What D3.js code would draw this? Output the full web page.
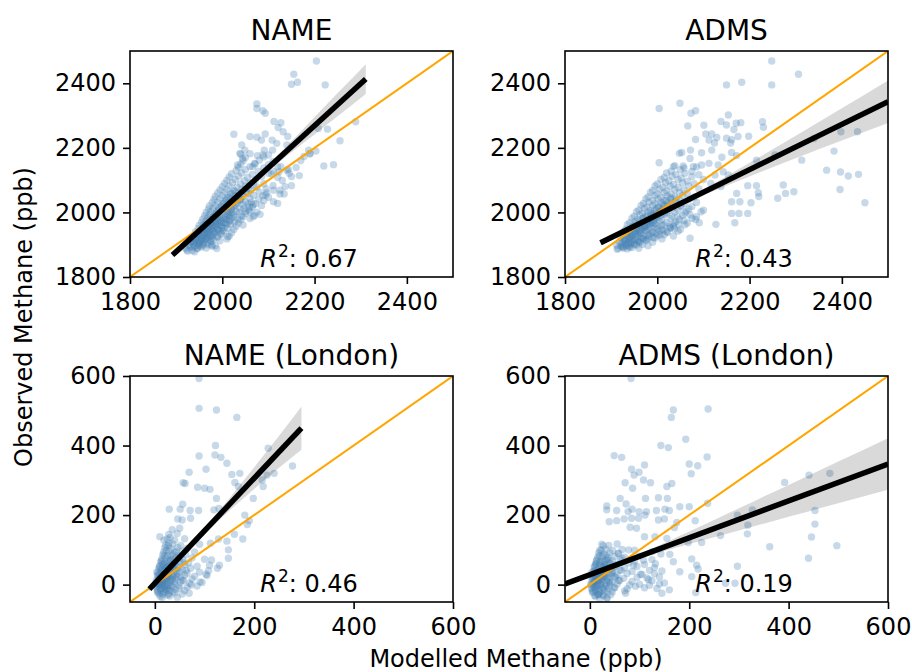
<!DOCTYPE html>
<html>
<head>
<meta charset="utf-8">
<script src="https://cdnjs.cloudflare.com/ajax/libs/d3/7.8.5/d3.min.js"></script>
<style>
  html, body { margin: 0; padding: 0; background: #fff; }
</style>
</head>
<body>
<div id="chart"></div>
<script>
// ------------------------------------------------------------------ data
const panelTitles = ['NAME', 'ADMS', 'NAME (London)', 'ADMS (London)'];
const r2Labels = ['0.67', '0.43', '0.46', '0.19'];
const totalDomain = [1800, 2500];
const totalTicks = [1800, 2000, 2200, 2400];
const londonDomain = [-50, 600];
const londonTicks = [0, 200, 400, 600];

// [modelled, observed] ppb
const nameTotal = [
  [1925,1880],[1935,1882],[1940,1878],[1920,1890],[1930,1892],[1945,1888],[1955,1893],[1965,1890],[1978,1895],[1988,1888],
  [1928,1900],[1938,1902],[1948,1898],[1958,1903],[1970,1900],[1985,1897],[1932,1910],[1942,1912],[1950,1908],[1960,1911],
  [1975,1909],[1995,1912],[1935,1920],[1945,1922],[1955,1918],[1965,1921],[1978,1919],[1990,1923],[2010,1918],[1940,1930],
  [1950,1932],[1958,1928],[1968,1931],[1980,1929],[1998,1933],[2015,1927],[1942,1940],[1952,1942],[1962,1938],[1972,1941],
  [1985,1939],[2000,1943],[2020,1937],[1948,1950],[1958,1952],[1966,1948],[1976,1951],[1990,1949],[2005,1953],[2025,1947],
  [1950,1960],[1960,1962],[1970,1958],[1980,1961],[1995,1959],[2010,1963],[2030,1957],[2045,1961],[1955,1970],[1965,1972],
  [1975,1968],[1985,1971],[2000,1969],[2015,1973],[2035,1967],[1958,1980],[1968,1982],[1978,1978],[1990,1981],[2005,1979],
  [2020,1983],[2040,1977],[2060,1981],[1962,1990],[1972,1992],[1982,1988],[1995,1991],[2010,1989],[2025,1993],[2045,1987],
  [2070,1991],[1965,2000],[1975,2002],[1988,1998],[2000,2001],[2015,1999],[2030,2003],[2050,1997],[2075,2001],[1970,2010],
  [1980,2012],[1992,2008],[2005,2011],[2020,2009],[2038,2013],[2058,2007],[1972,2020],[1985,2022],[1998,2018],[2010,2021],
  [2025,2019],[2045,2023],[2065,2017],[2085,2021],[1978,2030],[1990,2032],[2002,2028],[2015,2031],[2032,2029],[2050,2033],
  [2072,2027],[1982,2040],[1995,2042],[2008,2038],[2022,2041],[2040,2039],[2060,2043],[2090,2037],[1985,2050],[2000,2052],
  [2012,2048],[2028,2051],[2045,2049],[2068,2053],[2100,2047],[1990,2060],[2005,2062],[2018,2058],[2035,2061],[2055,2059],
  [2080,2063],[1995,2070],[2010,2072],[2025,2068],[2042,2071],[2062,2069],[2095,2073],[2000,2080],[2015,2082],[2032,2078],
  [2050,2081],[2075,2079],[2110,2083],[2005,2090],[2022,2092],[2040,2088],[2060,2091],[2090,2089],[2010,2100],[2028,2102],
  [2048,2098],[2072,2101],[2130,2099],[2015,2110],[2035,2112],[2055,2108],[2085,2111],[2120,2109],[2020,2120],[2042,2122],
  [2065,2118],[2100,2121],[2030,2130],[2050,2132],[2078,2128],[2140,2131],[2035,2140],[2060,2142],[2090,2138],[2120,2141],
  [2160,2139],[2040,2150],[2070,2152],[2100,2148],[2045,2160],[2080,2162],[2110,2158],[2170,2161],[2050,2170],[2090,2172],
  [2040,2180],[2060,2182],[2100,2178],[2190,2181],
  [1938,1908],[1945,1918],[1952,1925],[1960,1935],[1966,1942],[1972,1950],[1978,1958],[1985,1965],[1990,1972],[1996,1980],
  [1948,1930],[1956,1940],[1962,1948],[1970,1956],[1976,1964],[1983,1972],[1990,1985],[1940,1896],[1950,1902],[1960,1915],
  [1968,1922],[1975,1930],[1982,1940],[1990,1948],[1998,1958],[2004,1968],[2010,1978],[2015,1988],[2020,1998],
  [2204,2469],[2155,2428],[2150,2397],[2163,2403],[2223,2395],[2075,2336],[2075,2322],[2088,2315],[2093,2307],[2112,2282],
  [2127,2278],[2121,2263],[2132,2250],[2289,2281],[2228,2258],[2208,2260],[2025,2242],[2060,2235],[2075,2233],[2093,2243],
  [2085,2224],[2255,2222],[2108,2224],[2118,2214],[2042,2209],[2049,2193],[2038,2183],[2044,2167],[2203,2190],[2187,2193],
  [2190,2183],[2177,2173],[2220,2144],[2241,2148],[2150,2083],[2134,2057],[2111,2069],[2094,2054],[2082,1994],[2060,2002],
  [2012,1925],[1977,1899],[1946,1889],[2091,2193],[2109,2193],[2076,2176],[2088,2178],[2033,2147],[2066,2142],[2071,2150],
  [2150,2111],[2167,2114],[2145,2121],[2143,2133],[2127,2142],[2123,2126],[2107,2119],[2111,2126],[2136,2080],[2125,2069],
  [2125,2057],[2111,2033],[2120,2028],[2067,1987],[2056,2026],[2038,2038],[2096,2061],[2140,2209],[2142,2235]
];
const nameTotalCore = [
  [1923,1884],[1931,1897],[1937,1893],[1944,1906],[1949,1914],[1953,1909],[1957,1921],[1961,1928],[1964,1917],[1967,1933],
  [1971,1938],[1974,1926],[1977,1946],[1981,1951],[1983,1936],[1986,1958],[1989,1963],[1992,1944],[1994,1969],[1997,1976],
  [1999,1953],[2003,1984],[2006,1991],[2008,1966],[2011,1997],[2014,2004],[2017,1975],[2019,2011],[2023,2018],[2026,1986],
  [2029,2024],[2033,2036],[2036,2001],[2039,2044],[2043,2056],[2047,2012],[2052,2066],[2057,2074],[2063,2031],[2068,2085],
  [1934,1911],[1941,1919],[1947,1937],[1954,1945],[1959,1951],[1963,1962],[1969,1967],[1973,1978],[1979,1985],[1984,1994],
  [1988,2003],[1993,2013],[1999,2021],[2004,2030],[2009,2041],[2016,2047],[2021,2059],[2027,2066],[1952,1896],[1959,1899],
  [1967,1906],[1974,1913],[1981,1916],[1989,1926],[1997,1934],[2004,1942],[2012,1951],[2018,1963],[2026,1970],[2034,1979],
  [2042,1990],[2051,2004],[2059,2017],[2067,2024],[2079,2041],[2088,2052]
];

const admsTotal = [
  [1915,1888],[1925,1892],[1935,1887],[1945,1891],[1960,1889],[1912,1898],[1922,1902],[1932,1897],[1942,1903],[1955,1899],
  [1968,1901],[1980,1897],[1918,1908],[1928,1912],[1938,1907],[1948,1911],[1960,1909],[1975,1913],[1990,1908],[1920,1922],
  [1930,1918],[1940,1921],[1952,1917],[1965,1922],[1980,1919],[1995,1921],[2010,1918],[1925,1928],[1935,1932],[1945,1927],
  [1958,1931],[1970,1929],[1985,1933],[2000,1928],[2015,1931],[2035,1927],[1928,1942],[1940,1938],[1950,1941],[1962,1937],
  [1975,1942],[1990,1939],[2005,1941],[2022,1938],[2045,1942],[1932,1948],[1945,1952],[1955,1947],[1968,1951],[1980,1949],
  [1995,1953],[2010,1948],[2028,1951],[2050,1947],[1935,1962],[1948,1958],[1960,1961],[1972,1957],[1985,1962],[2000,1959],
  [2015,1961],[2035,1958],[2060,1962],[1940,1968],[1952,1972],[1965,1967],[1978,1971],[1990,1969],[2005,1973],[2020,1968],
  [2040,1971],[2065,1967],[1945,1982],[1958,1978],[1970,1981],[1982,1977],[1995,1982],[2010,1979],[2028,1981],[2048,1978],
  [2075,1982],[1950,1988],[1962,1992],[1975,1987],[1988,1991],[2000,1989],[2015,1993],[2032,1988],[2055,1991],[2085,1987],
  [1955,2002],[1968,1998],[1980,2001],[1992,1997],[2005,2002],[2020,1999],[2038,2001],[2060,1998],[2095,2002],[1960,2008],
  [1972,2012],[1985,2007],[1998,2011],[2010,2009],[2025,2013],[2045,2008],[2068,2011],[2100,2007],[1965,2022],[1978,2018],
  [1990,2021],[2002,2017],[2015,2022],[2032,2019],[2050,2021],[2075,2018],[1970,2028],[1982,2032],[1995,2027],[2008,2031],
  [2022,2029],[2040,2033],[2060,2028],[2085,2031],[1975,2042],[1990,2038],[2002,2041],[2015,2037],[2030,2042],[2048,2039],
  [2070,2041],[1980,2048],[1995,2052],[2008,2047],[2022,2051],[2038,2049],[2055,2053],[2080,2048],[1985,2062],[2000,2058],
  [2015,2061],[2030,2057],[2048,2062],[2065,2059],[1990,2068],[2005,2072],[2020,2067],[2038,2071],[2058,2069],[2090,2073],
  [1995,2082],[2012,2078],[2028,2081],[2045,2077],[2068,2082],[2000,2088],[2018,2092],[2035,2087],[2055,2091],[2080,2089],
  [2008,2102],[2025,2098],[2045,2101],[2065,2097],[2100,2102],[2015,2108],[2032,2112],[2052,2107],[2075,2111],[2020,2122],
  [2040,2118],[2060,2121],[2090,2117],[2030,2128],[2050,2132],[2075,2127],[2035,2142],[2058,2138],[2085,2141],
  [1925,1895],[1935,1905],[1945,1915],[1955,1925],[1965,1935],[1975,1945],[1985,1955],[1995,1965],[1940,1892],[1950,1900],
  [1960,1910],[1970,1920],[1980,1930],[1990,1940],[2000,1950],[2010,1960],[1930,1915],[1942,1925],[1952,1935],[1962,1945],
  [1972,1955],[1982,1965],[1992,1975],
  [2248,2469],[2306,2428],[2150,2395],[2183,2403],[2248,2395],[2004,2322],[2049,2338],[2073,2307],[2083,2315],[2154,2302],
  [2138,2282],[2150,2271],[2171,2276],[2181,2278],[2166,2257],[2175,2235],[2228,2281],[2230,2264],[2066,2268],[2105,2243],
  [2118,2243],[2083,2226],[2112,2224],[2150,2230],[2161,2225],[2159,2215],[2129,2232],[2124,2215],[2161,2186],[2172,2176],
  [2048,2183],[2053,2186],[2072,2193],[2096,2185],[2118,2193],[2004,2154],[2038,2145],[2056,2144],[2071,2167],[2078,2142],
  [2096,2147],[2112,2152],[2140,2171],[2132,2147],[2143,2126],[2215,2162],[2255,2178],[2313,2162],[2340,2229],[2398,2250],
  [2434,2250],[2383,2190],[2367,2131],[2397,2125],[2414,2113],[2436,2118],[2396,2071],[2273,2085],[2450,2030],[2278,2059],
  [2296,2064],[2261,2044],[2219,2061],[2220,2049],[2203,2030],[2179,2033],[2172,2059],[2161,2033],[2196,2083],[2215,2083],
  [2177,1997],[2196,1997],[2161,1997],[2168,1968],[2127,1963],[2071,1920],[2116,2090],[2138,2080],[2154,2116],[2125,2116],
  [2198,2236],[2101,2270]
];
const admsTotalCore = [
  [1913,1886],[1921,1894],[1927,1889],[1933,1899],[1939,1896],[1944,1906],[1951,1903],[1957,1914],[1963,1907],[1969,1919],
  [1976,1915],[1983,1926],[1991,1922],[1998,1935],[2006,1931],[2013,1944],[2021,1940],[2029,1953],[2037,1949],[2046,1962],
  [1924,1906],[1931,1913],[1938,1919],[1946,1928],[1953,1934],[1959,1941],[1966,1948],[1973,1955],[1979,1962],[1986,1969],
  [1993,1976],[2001,1983],[2008,1991],[2016,1998],[2024,2006],[2033,2014],[1936,1926],[1943,1934],[1949,1946],[1956,1952],
  [1964,1959],[1971,1966],[1977,1974],[1984,1981],[1992,1989],[1999,1996],[2007,2004],[2014,2013],[2023,2021],[2031,2032],
  [2041,2041],[1947,1957],[1955,1964],[1962,1973],[1969,1982],[1977,1990],[1986,1998],[1994,2006],[2003,2016],[2012,2025],
  [2019,2036],[2028,2046],[2052,2018],[2063,2004],[2071,1993],[2083,1978],[2091,1968],[2058,1975],[2044,1986],[2036,1966],
  [2027,1958]
];

const nameLondon = [
  [15,-37],[30,-33],[45,-36],[8,-27],[18,-23],[28,-26],[40,-24],[55,-27],[5,-14],[12,-17],[20,-13],[30,-16],[42,-14],[60,-17],
  [3,-6],[10,-3],[18,-7],[26,-4],[35,-6],[48,-3],[65,-7],[85,-4],[2,6],[8,3],[15,7],[22,4],[30,6],[40,3],[52,7],[70,4],[95,6],
  [4,14],[10,17],[17,13],[24,16],[32,14],[42,17],[55,13],[75,16],[5,26],[12,23],[18,27],[26,24],[35,26],[45,23],[60,27],[80,24],
  [105,26],[6,34],[13,37],[20,33],[28,36],[38,34],[50,37],[65,33],[90,36],[8,46],[15,43],[22,47],[30,44],[40,46],[55,43],[72,47],
  [10,54],[17,57],[25,53],[34,56],[45,54],[60,57],[85,53],[110,56],[12,66],[20,63],[28,67],[38,64],[50,66],[68,63],[14,74],
  [22,77],[32,73],[42,76],[56,74],[75,77],[100,73],[16,86],[25,83],[36,87],[48,84],[62,86],[18,94],[28,97],[40,93],[55,96],
  [80,94],[20,106],[32,103],[46,107],[65,104],[22,114],[36,117],[52,113],[90,116],[25,131],[40,128],[60,132],[28,144],[45,147],
  [35,158],[50,162],[10,138],[18,128],[28,120],
  [8,0],[12,10],[15,20],[18,30],[20,-5],[25,10],[28,40],[30,20],[14,-10],[22,50],[10,30],[35,15],[5,-20],[26,60],[32,45],
  [16,5],[20,40],[24,-15],[12,45],[38,25],
  [89,593],[89,507],[124,502],[165,481],[228,392],[122,400],[89,370],[121,373],[133,366],[145,349],[69,323],[103,332],[155,317],
  [171,320],[240,320],[226,315],[277,341],[57,293],[61,291],[86,280],[161,294],[168,282],[216,301],[218,282],[198,248],[29,217],
  [51,217],[71,213],[190,184],[186,173],[181,200],[160,145],[177,131],[145,125],[128,131],[112,119],[46,189],[55,186],[100,277],
  [111,274],[88,213],[72,191],[119,215],[129,219],[124,248],[56,231],[148,100],[148,76],[130,56],[114,71],[126,47],[103,30],
  [108,40],[91,8],[73,-1],[69,-25]
];
const nameLondonCore = [
  [6,-22],[11,-12],[14,-2],[9,8],[19,12],[13,21],[23,19],[17,28],[27,31],[21,39],[31,42],[24,51],[34,57],[29,68],[37,72],
  [33,83],[41,62],[47,49],[44,30],[52,22],[39,9],[33,-3],[27,-11],[21,-19],[16,-28],[7,17],[4,36],[9,52],[13,68],[19,83],
  [23,99],[27,112],[31,136],[43,96],[49,78],[57,64],[63,41],[58,12],[49,-10],[36,-20],[26,-30],[11,-34],[3,-1],[7,27],
  [12,2],[25,-1],[28,25],[36,50],[42,40],[15,60]
];

const admsLondon = [
  [20,-41],[35,-38],[10,-31],[18,-28],[28,-32],[42,-29],[5,-21],[12,-18],[20,-22],[30,-19],[45,-21],[70,-18],[3,-11],[10,-8],
  [18,-12],[26,-9],[36,-11],[50,-8],[75,-12],[110,-9],[135,-11],[2,1],[8,-2],[15,2],[22,-1],[30,1],[40,-2],[55,2],[80,-1],
  [100,1],[120,-2],[140,2],[4,11],[10,8],[17,12],[25,9],[34,11],[45,8],[60,12],[85,9],[125,11],[5,19],[12,22],[20,18],[28,21],
  [38,19],[50,22],[68,18],[95,21],[115,19],[140,22],[6,31],[14,28],[22,32],[30,29],[40,31],[55,28],[75,32],[105,29],[130,31],
  [8,39],[15,42],[24,38],[33,41],[45,39],[60,42],[85,38],[120,41],[145,39],[10,51],[18,48],[27,52],[36,49],[50,51],[70,48],
  [95,52],[130,49],[12,59],[20,62],[30,58],[40,61],[55,59],[78,62],[110,58],[14,71],[22,68],[33,72],[45,69],[62,71],[90,68],
  [125,72],[16,79],[25,82],[36,78],[50,81],[70,79],[100,82],[18,91],[28,88],[40,92],[58,89],[20,99],[32,102],[46,98],[65,101],
  [90,99],[24,116],[38,113],[55,117],
  [8,5],[12,15],[15,25],[18,35],[22,0],[25,15],[28,45],[30,25],[14,-5],[20,55],[10,40],[35,20],[6,-15],[26,65],[32,50],
  [16,10],[24,30],[40,5],[12,60],[45,35],
  [83,593],[168,502],[164,481],[238,505],[143,400],[158,394],[193,418],[49,371],[64,366],[200,347],[217,342],[204,319],[236,367],
  [110,344],[84,332],[99,323],[89,315],[108,301],[122,293],[71,293],[165,291],[155,282],[86,277],[61,248],[392,294],[441,315],
  [483,320],[453,213],[453,174],[446,137],[362,109],[497,112],[440,76],[297,53],[112,248],[138,250],[156,248],[34,226],[34,215],
  [54,213],[73,232],[77,210],[85,217],[99,210],[114,210],[134,213],[151,217],[160,213],[181,224],[200,224],[237,234],[39,181],
  [54,184],[69,189],[84,191],[98,191],[111,200],[138,186],[150,189],[175,179],[212,184],[81,165],[94,162],[110,138],[131,138],
  [155,133],[170,164],[198,121],[225,121],[263,141],[297,200],[318,171],[317,146],[327,215],[292,4],[273,4],[205,74],[215,56],
  [218,45],[181,37],[168,66],[161,87],[205,23],[213,-23],[17,-30],[34,-39]
];
const admsLondonCore = [
  [6,-22],[11,-12],[14,-2],[9,8],[19,12],[13,21],[23,19],[17,28],[27,31],[21,39],[31,42],[24,51],[34,57],[29,68],[37,72],
  [33,83],[41,62],[47,49],[44,30],[52,22],[39,9],[33,-3],[27,-11],[21,-19],[16,-28],[7,17],[4,36],[9,52],[13,68],[19,83],
  [23,99],[27,112],[63,41],[58,12],[49,-10],[36,-20],[26,-30],[11,-34],[3,-1],[7,27],[65,75],[88,56],[102,30],[118,15],
  [92,-5],[72,-25],[57,90],[78,100],[108,70],[132,60],[143,88],[125,95],[150,5],[160,-15],[145,-25]
];

// regression lines: [x start, y start, x end, y end]
const fitLines = [
  [1892, 1868, 2311, 2413],
  [1877, 1906, 2500, 2343],
  [-11, -13, 295, 450],
  [-50, 2, 600, 347]
];
// confidence band: x positions and half width (ppb)
const bandX = [
  [1892, 1950, 2000, 2050, 2100, 2150, 2200, 2250, 2311],
  [1877, 1950, 2000, 2100, 2200, 2300, 2400, 2500],
  [-11, 20, 50, 100, 150, 200, 250, 295],
  [-50, 0, 50, 100, 200, 300, 400, 500, 600]
];
const bandHalf = [
  [6, 4, 3, 5, 10, 17, 27, 36, 46],
  [7, 5, 4, 9, 21, 35, 50, 66],
  [6, 4, 4, 9, 18, 31, 46, 62],
  [8, 6, 5, 7, 18, 32, 46, 60, 74]
];

// ------------------------------------------------------------------ chart
function renderChart() {

  var attrs = {
    svgWidth: 912,
    svgHeight: 672,
    panelWidth: 323,
    panelHeight: 226,
    panelLefts: [130, 565],
    panelTops: [51, 376],
    pointRadius: 3.7,
    pointColor: 'steelblue',
    pointOpacity: 0.3,
    identityColor: '#ffa500',
    fitColor: '#000000',
    bandOpacity: 0.15,
    defaultFont: 'DejaVu Sans',
    tickFontSize: 24,
    titleFontSize: 28,
    labelFontSize: 24,
    container: '#chart'
  };

  var pointSets = [
    nameTotal.concat(nameTotalCore),
    admsTotal.concat(admsTotalCore),
    nameLondon.concat(nameLondonCore),
    admsLondon.concat(admsLondonCore)
  ];

  var panels = pointSets.map(function (points, i) {
    var london = i > 1;
    return {
      id: i,
      title: panelTitles[i],
      r2: r2Labels[i],
      points: points,
      domain: london ? londonDomain : totalDomain,
      ticks: london ? londonTicks : totalTicks,
      fit: fitLines[i],
      band: bandX[i].map(function (x, j) { return { x: x, h: bandHalf[i][j] }; })
    };
  });

  d3.selection.prototype.patternify = function (params) {
    var container = this;
    var selector = params.selector;
    var data = params.data || [selector];
    var selection = container.selectAll('.' + selector).data(data);
    selection.exit().remove();
    selection = selection.enter().append(params.tag).merge(selection);
    selection.attr('class', selector);
    return selection;
  };

  var svg = d3.select(attrs.container).patternify({ tag: 'svg', selector: 'svg-chart-container' })
    .attr('width', attrs.svgWidth)
    .attr('height', attrs.svgHeight)
    .attr('font-family', attrs.defaultFont)
    .style('display', 'block');

  var defs = svg.patternify({ tag: 'defs', selector: 'defs' });
  defs.patternify({ tag: 'clipPath', selector: 'panel-clip', data: panels })
    .attr('id', d => 'clip' + d.id)
    .patternify({ tag: 'rect', selector: 'clip-rect', data: d => [d] })
    .attr('width', attrs.panelWidth)
    .attr('height', attrs.panelHeight);

  var panel = svg.patternify({ tag: 'g', selector: 'panel', data: panels })
    .attr('transform', d => 'translate(' + attrs.panelLefts[d.id % 2] + ',' + attrs.panelTops[Math.floor(d.id / 2)] + ')');

  panel.each(function (d) {
    var g = d3.select(this);
    var x = d3.scaleLinear().domain(d.domain).range([0, attrs.panelWidth]);
    var y = d3.scaleLinear().domain(d.domain).range([attrs.panelHeight, 0]);
    var fitY = function (v) {
      var f = d.fit;
      return f[1] + (v - f[0]) * (f[3] - f[1]) / (f[2] - f[0]);
    };

    var plot = g.patternify({ tag: 'g', selector: 'plot-area' })
      .attr('clip-path', 'url(#clip' + d.id + ')');

    plot.patternify({ tag: 'circle', selector: 'dot', data: d.points })
      .attr('cx', p => x(p[0]))
      .attr('cy', p => y(p[1]))
      .attr('r', attrs.pointRadius)
      .attr('fill', attrs.pointColor)
      .attr('fill-opacity', attrs.pointOpacity);

    plot.patternify({ tag: 'line', selector: 'identity' })
      .attr('x1', x(d.domain[0])).attr('y1', y(d.domain[0]))
      .attr('x2', x(d.domain[1])).attr('y2', y(d.domain[1]))
      .attr('stroke', attrs.identityColor)
      .attr('stroke-width', 2);

    var area = d3.area()
      .x(b => x(b.x))
      .y0(b => y(fitY(b.x) - b.h))
      .y1(b => y(fitY(b.x) + b.h))
      .curve(d3.curveMonotoneX);

    plot.patternify({ tag: 'path', selector: 'band' })
      .attr('d', area(d.band))
      .attr('fill', attrs.fitColor)
      .attr('fill-opacity', attrs.bandOpacity);

    plot.patternify({ tag: 'line', selector: 'fit' })
      .attr('x1', x(d.fit[0])).attr('y1', y(d.fit[1]))
      .attr('x2', x(d.fit[2])).attr('y2', y(d.fit[3]))
      .attr('stroke', attrs.fitColor)
      .attr('stroke-width', 5.5);

    // axes
    var xAxis = g.patternify({ tag: 'g', selector: 'x-axis' })
      .attr('transform', 'translate(0,' + attrs.panelHeight + ')')
      .call(d3.axisBottom(x).tickValues(d.ticks).tickSize(7).tickPadding(9).tickFormat(d3.format('d')));
    var yAxis = g.patternify({ tag: 'g', selector: 'y-axis' })
      .call(d3.axisLeft(y).tickValues(d.ticks).tickSize(7).tickPadding(7).tickFormat(d3.format('d')));

    [xAxis, yAxis].forEach(function (ax) {
      ax.select('.domain').remove();
      ax.selectAll('line').attr('stroke', '#000').attr('stroke-width', 1.6);
      ax.selectAll('text')
        .attr('fill', '#000')
        .attr('font-family', attrs.defaultFont)
        .attr('font-size', attrs.tickFontSize);
    });

    g.patternify({ tag: 'rect', selector: 'frame' })
      .attr('width', attrs.panelWidth)
      .attr('height', attrs.panelHeight)
      .attr('fill', 'none')
      .attr('stroke', '#000')
      .attr('stroke-width', 1.6);

    g.patternify({ tag: 'text', selector: 'panel-title' })
      .attr('x', attrs.panelWidth / 2)
      .attr('y', -11.5)
      .attr('text-anchor', 'middle')
      .attr('font-size', attrs.titleFontSize)
      .text(d.title);

    var r2 = g.patternify({ tag: 'text', selector: 'r2' })
      .attr('x', attrs.panelWidth * 0.40 + 1)
      .attr('y', attrs.panelHeight - 10.5)
      .attr('font-size', attrs.labelFontSize);
    r2.selectAll('tspan').remove();
    r2.append('tspan').attr('font-style', 'italic').text('R');
    r2.append('tspan').attr('font-size', 17).attr('dy', -10).attr('dx', 1).text('2');
    r2.append('tspan').attr('dy', 10).text(': ' + d.r2);
  });

  svg.patternify({ tag: 'text', selector: 'x-label' })
    .attr('x', 516)
    .attr('y', 667)
    .attr('text-anchor', 'middle')
    .attr('font-size', attrs.labelFontSize)
    .text('Modelled Methane (ppb)');

  svg.patternify({ tag: 'text', selector: 'y-label' })
    .attr('transform', 'translate(32,317) rotate(-90)')
    .attr('text-anchor', 'middle')
    .attr('font-size', attrs.labelFontSize)
    .text('Observed Methane (ppb)');
}

renderChart();
</script>
</body>
</html>
